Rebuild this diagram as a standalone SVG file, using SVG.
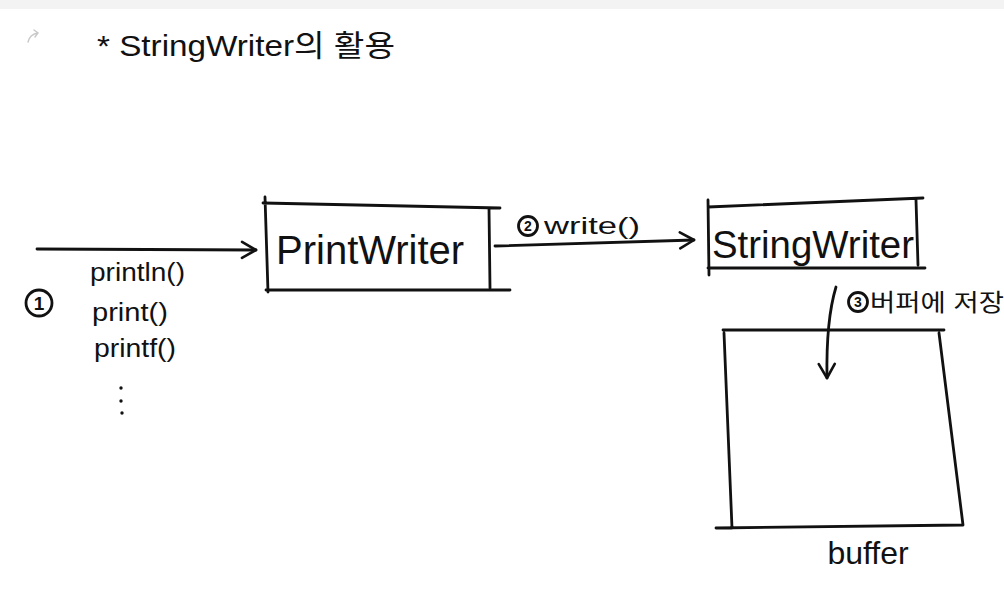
<svg xmlns="http://www.w3.org/2000/svg" width="1004" height="613" viewBox="0 0 1004 613">
  <defs>
    <style>
      .ink { fill: none; stroke: #111; stroke-width: 2.8; stroke-linecap: round; stroke-linejoin: round; }
      .txt { font-family: "Liberation Sans", "Noto Sans CJK KR", sans-serif; fill: #111; }
      .num { font-family: "Liberation Sans", sans-serif; fill: #111; font-weight: bold; text-anchor: middle; }
    </style>
    <marker id="chev" viewBox="0 0 20 20" refX="18" refY="10" markerWidth="20" markerHeight="20" markerUnits="userSpaceOnUse" orient="auto">
      <path d="M4,2 L18,10 L4,18" fill="none" stroke="#111" stroke-width="2.6" stroke-linecap="round" stroke-linejoin="round"/>
    </marker>
  </defs>
  <rect x="0" y="0" width="1004" height="613" fill="#ffffff"/>
  <rect x="0" y="0" width="1004" height="9" fill="#f3f3f3"/>
  <path d="M28,42 Q30,34 38,33 M34,30 L38,33 L35,37" fill="none" stroke="#c8c8c8" stroke-width="1.4" stroke-linecap="round"/>

  <g id="title">
    <text class="txt" x="97" y="56" font-size="30" textLength="298" lengthAdjust="spacingAndGlyphs">* StringWriter의 활용</text>
  </g>

  <g id="connectors">
    <path class="ink" d="M37,249 L256,250" marker-end="url(#chev)"/>
    <path class="ink" d="M495,246 L694,240" marker-end="url(#chev)"/>
    <path class="ink" d="M836,287 Q826,320 827,378" marker-end="url(#chev)"/>
  </g>

  <g id="print-writer">
    <path class="ink" d="M265,197 L268,292 M263,203 L500,208 M489,208 L490,288 M266,290 L510,290"/>
    <text class="txt" x="276" y="264" font-size="40">PrintWriter</text>
  </g>

  <g id="string-writer">
    <path class="ink" d="M708,200 L709,275 M708,207 L923,198 M916,200 L918,265 M708,268 L925,268"/>
    <text class="txt" x="712" y="258" font-size="38" textLength="202" lengthAdjust="spacingAndGlyphs">StringWriter</text>
  </g>

  <g id="buffer">
    <path class="ink" d="M723,330 L944,330 M724,333 Q728,430 732,528 M939,333 L963,525 M716,528 L963,525"/>
    <text class="txt" x="868" y="564" font-size="32" text-anchor="middle">buffer</text>
  </g>

  <g id="label-1">
    <circle class="ink" cx="39" cy="303" r="13"/>
    <text class="num" x="39" y="310" font-size="19">1</text>
    <text class="txt" x="90" y="281" font-size="25" textLength="95" lengthAdjust="spacingAndGlyphs">println()</text>
    <text class="txt" x="92" y="321" font-size="25" textLength="76" lengthAdjust="spacingAndGlyphs">print()</text>
    <text class="txt" x="94" y="357" font-size="25" textLength="82" lengthAdjust="spacingAndGlyphs">printf()</text>
    <circle cx="121" cy="388" r="1.7" fill="#111"/>
    <circle cx="121" cy="401" r="1.7" fill="#111"/>
    <circle cx="122" cy="413" r="1.7" fill="#111"/>
  </g>

  <g id="label-2">
    <circle class="ink" cx="528" cy="226" r="9.5"/>
    <text class="num" x="528" y="231" font-size="14">2</text>
    <text class="txt" x="544" y="234" font-size="24" textLength="96" lengthAdjust="spacingAndGlyphs">write()</text>
  </g>

  <g id="label-3">
    <circle class="ink" cx="858" cy="302" r="9.5"/>
    <text class="num" x="858" y="307" font-size="14">3</text>
    <text class="txt" x="870" y="311" font-size="24" textLength="134" lengthAdjust="spacingAndGlyphs">버퍼에 저장</text>
  </g>
</svg>
